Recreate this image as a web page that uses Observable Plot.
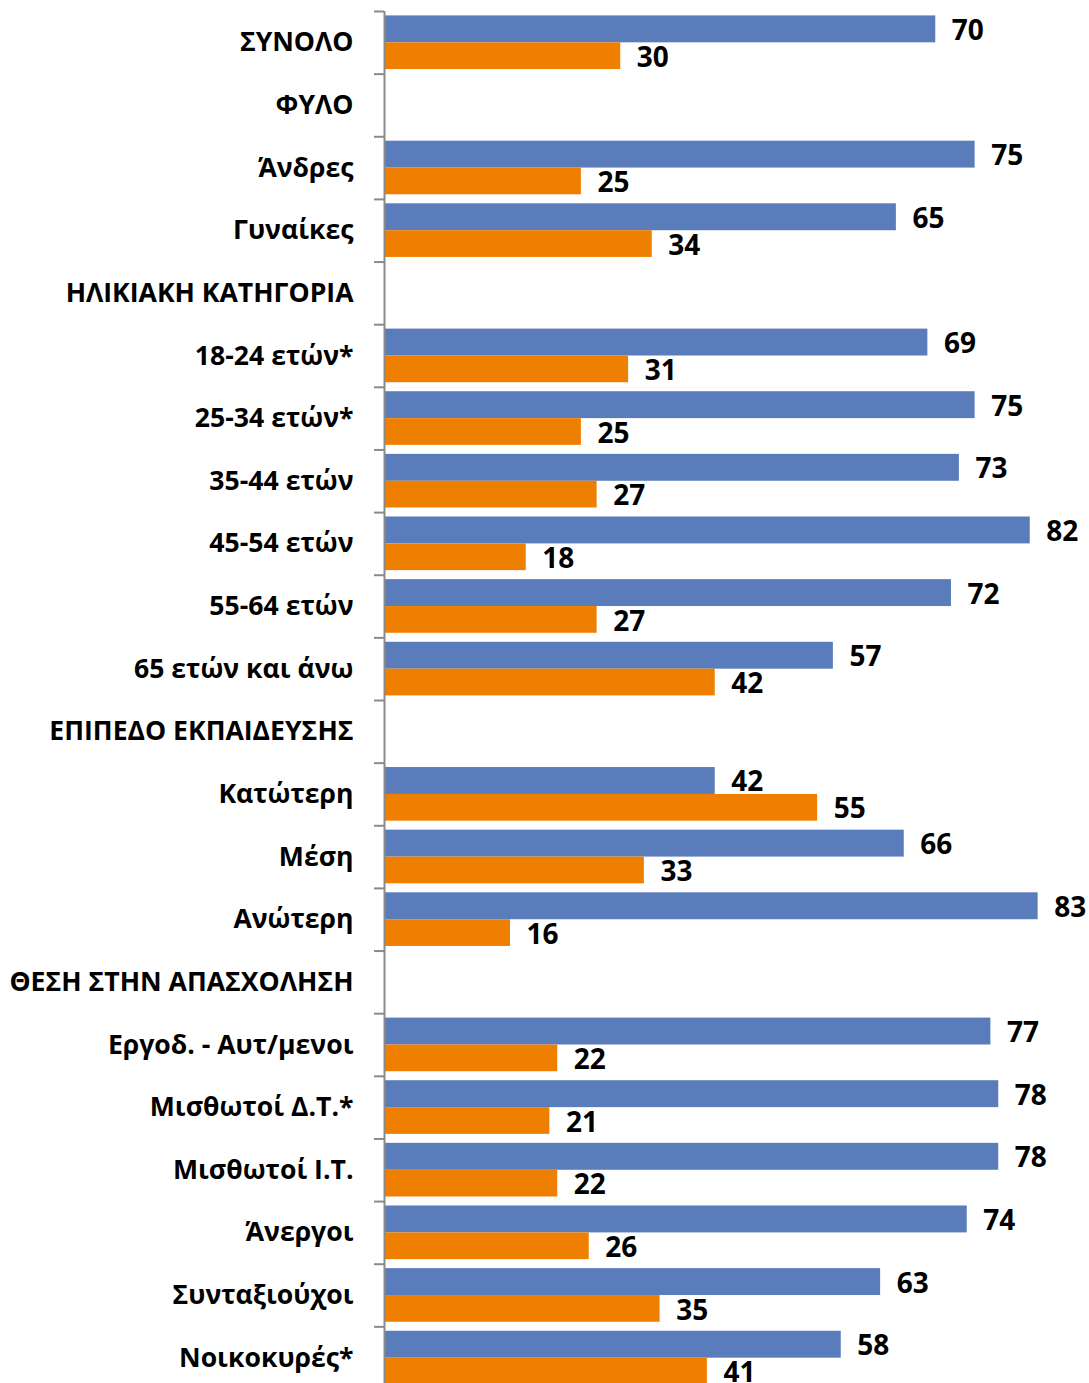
<!DOCTYPE html>
<html>
<head>
<meta charset="utf-8">
<script src="https://cdn.jsdelivr.net/npm/d3@7"></script>
<script src="https://cdn.jsdelivr.net/npm/@observablehq/plot@0.6"></script>
<style>
  html, body { margin: 0; padding: 0; background: #fff; }
  #chart svg { display: block; }
</style>
</head>
<body>
<div id="chart"></div>
<script>
const categories = [
  "ΣΥΝΟΛΟ", "ΦΥΛΟ", "Άνδρες", "Γυναίκες", "ΗΛΙΚΙΑΚΗ ΚΑΤΗΓΟΡΙΑ",
  "18-24 ετών*", "25-34 ετών*", "35-44 ετών", "45-54 ετών", "55-64 ετών",
  "65 ετών και άνω", "ΕΠΙΠΕΔΟ ΕΚΠΑΙΔΕΥΣΗΣ", "Κατώτερη", "Μέση", "Ανώτερη",
  "ΘΕΣΗ ΣΤΗΝ ΑΠΑΣΧΟΛΗΣΗ", "Εργοδ. - Αυτ/μενοι", "Μισθωτοί Δ.Τ.*", "Μισθωτοί Ι.Τ.",
  "Άνεργοι", "Συνταξιούχοι", "Νοικοκυρές*"
];
const seriesA = [70, null, 75, 65, null, 69, 75, 73, 82, 72, 57, null, 42, 66, 83, null, 77, 78, 78, 74, 63, 58];
const seriesB = [30, null, 25, 34, null, 31, 25, 27, 18, 27, 42, null, 55, 33, 16, null, 22, 21, 22, 26, 35, 41];

const colorA = "#5B7CBA";
const colorB = "#EF7F00";

const rowsA = categories.map((c, i) => ({category: c, value: seriesA[i]})).filter(d => d.value != null);
const rowsB = categories.map((c, i) => ({category: c, value: seriesB[i]})).filter(d => d.value != null);

const yTop = 11, yBottom = 1389;
const step = (yBottom - yTop) / categories.length;
const half = step / 2;

const chart = Plot.plot({
  width: 1089,
  height: 1383,
  marginLeft: 384,
  marginRight: 12,
  marginTop: 11,
  marginBottom: 0,
  style: {fontFamily: "'Open Sans', sans-serif", fontWeight: "bold", fontSize: "26px", color: "#000", background: "#fff"},
  x: {domain: [0, 88], axis: null},
  y: {domain: categories, range: [yTop, yBottom], padding: 0, round: false, axis: null},
  marks: [
    Plot.barX(rowsA, {x: "value", y: "category", fill: colorA, insetTop: 4.4, insetBottom: half}),
    Plot.barX(rowsB, {x: "value", y: "category", fill: colorB, insetTop: half, insetBottom: 4.6}),
    Plot.text(rowsA, {x: "value", y: "category", text: d => String(d.value), textAnchor: "start", dx: 16, dy: -12, fill: "#000", fontSize: 28, fontWeight: "bold"}),
    Plot.text(rowsB, {x: "value", y: "category", text: d => String(d.value), textAnchor: "start", dx: 16, dy: 15, fill: "#000", fontSize: 28, fontWeight: "bold"}),
    Plot.ruleX([0], {stroke: "#8a8a8a", strokeWidth: 2}),
    Plot.axisY({anchor: "left", tickSize: 10, text: null, dy: -half, stroke: "#8a8a8a", strokeWidth: 2, label: null}),
    Plot.axisY({anchor: "left", tickSize: 0, tickPadding: 31, fill: "#000", fontSize: 26.6, fontWeight: "bold", label: null})
  ]
});
document.getElementById("chart").appendChild(chart);
</script>
</body>
</html>
